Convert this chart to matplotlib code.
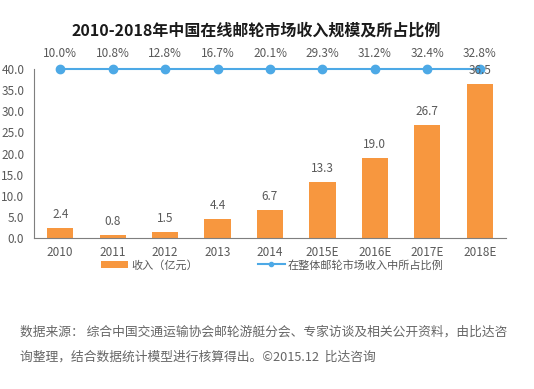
import matplotlib
matplotlib.use("Agg")
import matplotlib.pyplot as plt
from matplotlib.lines import Line2D
from matplotlib.patches import Patch

plt.rcParams['font.family'] = ['Noto Sans CJK SC', 'DejaVu Sans']

categories = ["2010", "2011", "2012", "2013", "2014", "2015E", "2016E", "2017E", "2018E"]
revenue = [2.4, 0.8, 1.5, 4.4, 6.7, 13.3, 19.0, 26.7, 36.5]
share_pct = [10.0, 10.8, 12.8, 16.7, 20.1, 29.3, 31.2, 32.4, 32.8]
yticks = [0, 5, 10, 15, 20, 25, 30, 35, 40]

title = "2010-2018年中国在线邮轮市场收入规模及所占比例"
legend_bar = "收入（亿元）"
legend_line = "在整体邮轮市场收入中所占比例"
footnote1 = "数据来源： 综合中国交通运输协会邮轮游艇分会、专家访谈及相关公开资料，由比达咨"
footnote2 = "询整理，结合数据统计模型进行核算得出。©2015.12  比达咨询"

W, H = 534, 389
fig = plt.figure(figsize=(W / 100, H / 100), dpi=100)
ax = fig.add_axes([34 / W, 1 - 238 / H, (506 - 34) / W, (238 - 69) / H])

orange = "#F7973F"
blue = "#4DA9E6"
grey = "#595959"

x = list(range(len(categories)))
ax.bar(x, revenue, width=0.5, color=orange, zorder=2)
ymax = yticks[-1]
ax.plot(x, [ymax] * len(x), color=blue, lw=1.5, marker="o", ms=6, zorder=3, clip_on=False)

for xi, v in zip(x, revenue):
    ax.annotate(f"{v:.1f}", (xi, v), xytext=(0, 5), textcoords="offset points",
                ha="center", va="bottom", fontsize=8.5, color=grey, zorder=4)
for xi, p in zip(x, share_pct):
    ax.annotate(f"{p:.1f}%", (xi, ymax), xytext=(0, 11.5), textcoords="offset points",
                ha="center", va="center", fontsize=8.5, color=grey, annotation_clip=False)

ax.set_xlim(-0.5, len(categories) - 0.5)
ax.set_ylim(0, ymax)
ax.set_yticks(yticks)
ax.set_yticklabels([f"{t:.1f}" for t in yticks])
ax.set_xticks(x)
ax.set_xticklabels(categories)
ax.tick_params(axis="both", length=0, labelsize=8.5, colors=grey, pad=6)
ax.tick_params(axis="y", pad=7)
for s in ["top", "right"]:
    ax.spines[s].set_visible(False)
for s in ["left", "bottom"]:
    ax.spines[s].set_color("#7F7F7F")
    ax.spines[s].set_linewidth(0.8)

fig.text(256 / W, 1 - 31 / H, title, ha="center", va="center", fontsize=11.5,
         fontweight="bold", color="#1a1a1a")

leg1 = fig.legend([Patch(facecolor=orange, edgecolor="none")], [legend_bar],
                  loc="center left", bbox_to_anchor=(101 / W, 1 - 265 / H), frameon=False,
                  fontsize=8, handlelength=2.4, handleheight=0.5, handletextpad=0.3,
                  labelcolor=grey, borderpad=0, borderaxespad=0)
leg2 = fig.legend([Line2D([0], [0], color=blue, lw=1.5, marker="o", ms=3)], [legend_line],
                  loc="center left", bbox_to_anchor=(258 / W, 1 - 265 / H), frameon=False,
                  fontsize=8, handlelength=2.4, handletextpad=0.3,
                  labelcolor=grey, borderpad=0, borderaxespad=0)

fig.text(20 / W, 1 - 332 / H, footnote1, ha="left", va="center", fontsize=9.2, color="#666666")
fig.text(20 / W, 1 - 357 / H, footnote2, ha="left", va="center", fontsize=9.2, color="#666666")

fig.savefig("out.png", dpi=100)
